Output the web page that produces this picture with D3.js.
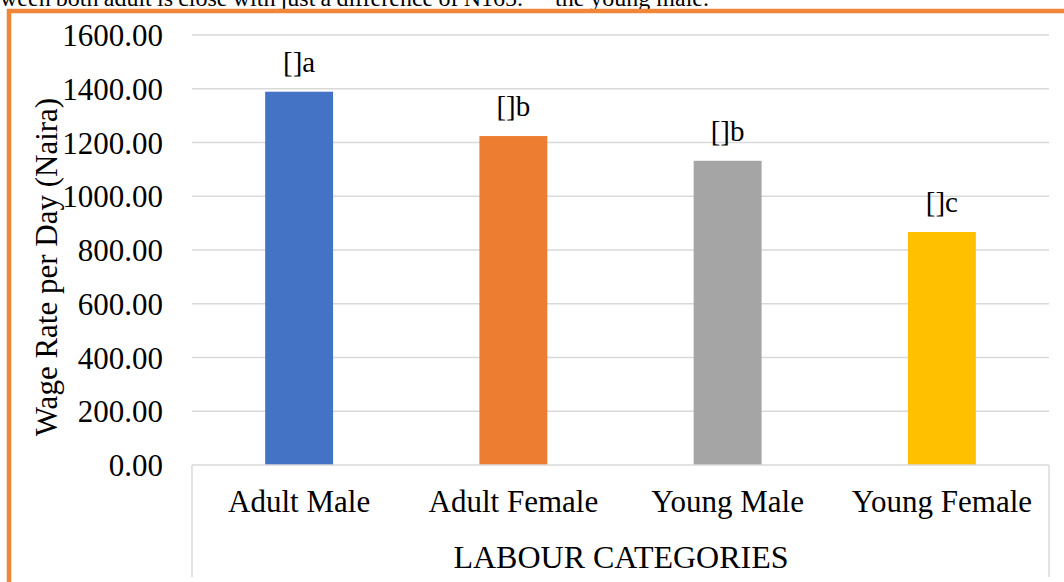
<!DOCTYPE html>
<html>
<head>
<meta charset="utf-8">
<script src="https://cdn.jsdelivr.net/npm/d3@7"></script>
<style>
  html, body { margin: 0; padding: 0; background: #fff; }
  svg { display: block; font-family: "Liberation Serif", "Times New Roman", serif; }
</style>
</head>
<body>
<svg id="chart" width="1064" height="582"></svg>
<script>
const categories = ["Adult Male", "Adult Female", "Young Male", "Young Female"];
const wageValues = [1389, 1224, 1132, 867];
const barLabels = ["[]a", "[]b", "[]b", "[]c"];
const barColors = ["#4472C4", "#ED7D31", "#A5A5A5", "#FFC000"];
const yTicks = [0, 200, 400, 600, 800, 1000, 1200, 1400, 1600];
const yTitle = "Wage Rate per Day (Naira)";
const xTitle = "LABOUR CATEGORIES";
const topTextParts = ["ween both adult is close with just a difference of N165.", "the young male."];

const svg = d3.select("#chart");
const W = 1064, H = 582;
const plot = { left: 192, right: 1049, top: 35, bottom: 465 };

// fragment of justified document text above the chart (cropped at top in the reference)
const t1 = svg.append("text")
  .attr("x", 0).attr("y", 5.5)
  .attr("font-size", 24)
  .attr("fill", "#000")
  .text(topTextParts[0]);
const natural = t1.node().getComputedTextLength();
const nSpaces = (topTextParts[0].match(/ /g) || []).length;
t1.attr("word-spacing", (523 - natural) / nSpaces);
svg.append("text")
  .attr("x", 555).attr("y", 5.5)
  .attr("font-size", 24)
  .attr("fill", "#000")
  .text(topTextParts[1]);

// orange frame (left and top edges visible)
svg.append("path")
  .attr("d", `M9,${H} L9,11 L${W},11`)
  .attr("fill", "none")
  .attr("stroke", "#F0863A")
  .attr("stroke-width", 4.5);

const y = d3.scaleLinear().domain([0, 1600]).range([plot.bottom, plot.top]);
const x = d3.scaleBand().domain(categories).range([plot.left, plot.right]).padding(0);
const barW = x.bandwidth() * 0.317;

// gridlines
svg.append("g")
  .selectAll("line")
  .data(yTicks.filter(d => d > 0))
  .join("line")
  .attr("x1", plot.left).attr("x2", plot.right)
  .attr("y1", d => y(d)).attr("y2", d => y(d))
  .attr("stroke", "#D9D9D9").attr("stroke-width", 1.4);

// y axis tick labels
const yAxis = d3.axisLeft(y).tickValues(yTicks).tickFormat(d3.format(".2f")).tickSize(0).tickPadding(0);
const gy = svg.append("g").attr("transform", `translate(163,0)`).call(yAxis);
gy.select(".domain").remove();
gy.selectAll("text")
  .attr("font-family", "Liberation Serif, Times New Roman, serif")
  .attr("font-size", 31)
  .attr("fill", "#000")
  .attr("dy", "0.34em");

// bars
svg.append("g")
  .selectAll("rect")
  .data(categories)
  .join("rect")
  .attr("x", d => x(d) + (x.bandwidth() - barW) / 2)
  .attr("width", barW)
  .attr("y", (d, i) => y(wageValues[i]))
  .attr("height", (d, i) => y(0) - y(wageValues[i]))
  .attr("fill", (d, i) => barColors[i]);

// bar labels
svg.append("g")
  .selectAll("text")
  .data(categories)
  .join("text")
  .attr("x", d => x(d) + x.bandwidth() / 2)
  .attr("y", (d, i) => y(wageValues[i]) - 20)
  .attr("text-anchor", "middle")
  .attr("font-size", 29)
  .attr("fill", "#000")
  .text((d, i) => barLabels[i]);

// x axis: category labels
const xAxis = d3.axisBottom(x).tickSize(0).tickPadding(0);
const gx = svg.append("g").attr("transform", `translate(0,${plot.bottom})`).call(xAxis);
gx.select(".domain").remove();
gx.selectAll("text")
  .attr("font-family", "Liberation Serif, Times New Roman, serif")
  .attr("font-size", 31)
  .attr("fill", "#000")
  .attr("dy", 0)
  .attr("y", 47);

// axis baseline and category box
svg.append("line")
  .attr("x1", plot.left).attr("x2", plot.right)
  .attr("y1", plot.bottom).attr("y2", plot.bottom)
  .attr("stroke", "#D9D9D9").attr("stroke-width", 1.4);
[plot.left, plot.right].forEach(px => {
  svg.append("line")
    .attr("x1", px).attr("x2", px)
    .attr("y1", plot.bottom).attr("y2", 577)
    .attr("stroke", "#D9D9D9").attr("stroke-width", 1.4);
});

// x axis title
svg.append("text")
  .attr("x", 621)
  .attr("y", 568)
  .attr("text-anchor", "middle")
  .attr("font-size", 32)
  .attr("fill", "#000")
  .text(xTitle);

// y axis title
svg.append("text")
  .attr("transform", `translate(57,267) rotate(-90)`)
  .attr("text-anchor", "middle")
  .attr("font-size", 31)
  .attr("fill", "#000")
  .text(yTitle);
</script>
</body>
</html>
